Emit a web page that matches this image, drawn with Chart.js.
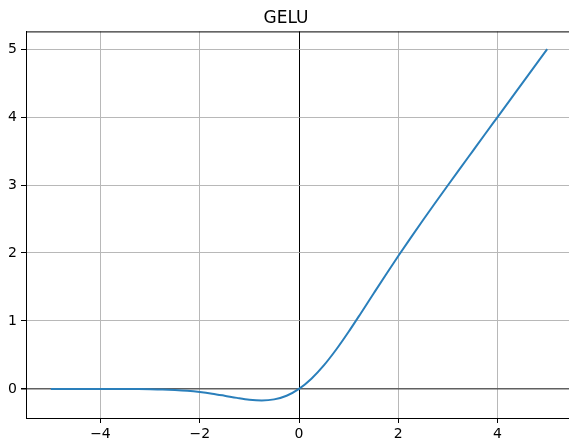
<!DOCTYPE html>
<html>
<head>
<meta charset="utf-8">
<script src="https://cdn.jsdelivr.net/npm/chart.js@4/dist/chart.umd.min.js"></script>
<style>
  html, body { margin: 0; padding: 0; background: #fff; overflow: hidden; }
  #wrap { width: 576px; height: 441px; }
</style>
</head>
<body>
<div id="wrap"><canvas id="myChart" width="576" height="441"></canvas></div>
<script>
// GELU curve, values
var xs = [-5, -4.75, -4.5, -4.25, -4, -3.75, -3.5, -3.25, -3, -2.75, -2.5, -2.25, -2, -1.75, -1.5, -1.25,
          -1, -0.75, -0.5, -0.25, 0, 0.25, 0.5, 0.75, 1, 1.25, 1.5, 1.75, 2, 2.25, 2.5, 2.75,
          3, 3.25, 3.5, 3.75, 4, 4.25, 4.5, 4.75, 5];
var ys = [0, 0, 0, 0, -0.0001, -0.0003, -0.0008, -0.002, -0.004, -0.008, -0.016, -0.028, -0.046, -0.070, -0.100, -0.132,
          -0.159, -0.170, -0.154, -0.100, 0, 0.150, 0.346, 0.580, 0.841, 1.118, 1.400, 1.680, 1.955, 2.223, 2.485, 2.742,
          2.996, 3.248, 3.499, 3.750, 4.000, 4.250, 4.500, 4.750, 5.000];
var xTicks = [-4, -2, 0, 2, 4];
var yTicks = [0, 1, 2, 3, 4, 5];

var points = xs.map(function (x, i) { return { x: x, y: ys[i] }; });

// matplotlib-like box around the axes
var frame = {
    id: 'frame',
    afterDraw: function (chart) {
        var a = chart.chartArea, c = chart.ctx;
        c.save();
        c.strokeStyle = '#000';
        c.lineWidth = 1;
        c.strokeRect(a.left + 0.5, a.top + 0.5, a.right - a.left, a.bottom - a.top);
        c.restore();
    }
};

var font = { family: 'DejaVu Sans', size: 14 };

var ctx = document.getElementById('myChart').getContext('2d');
var myChart = new Chart(ctx, {
    type: 'scatter',
    data: {
        datasets: [{
            data: points,
            showLine: true,
            borderColor: '#2a7fbb',
            borderWidth: 2,
            pointRadius: 0,
            cubicInterpolationMode: 'monotone'
        }]
    },
    options: {
        responsive: false,
        animation: false,
        layout: { padding: { right: 4, left: 0, top: 0, bottom: 0 } },
        plugins: {
            legend: { display: false },
            tooltip: { enabled: false },
            title: {
                display: true,
                text: 'GELU',
                color: '#000',
                font: { family: 'DejaVu Sans', size: 17, weight: 'normal' },
                padding: { top: 8, bottom: 3 }
            }
        },
        scales: {
            x: {
                type: 'linear',
                min: -5.5,
                max: 5.5,
                afterFit: function (s) { s.height = 23; },
                afterBuildTicks: function (s) { s.ticks = xTicks.map(function (v) { return { value: v }; }); },
                ticks: {
                    color: '#000',
                    font: font,
                    padding: 3,
                    maxRotation: 0,
                    callback: function (v) { return String(v).replace('-', '\u2212'); }
                },
                grid: {
                    color: function (c) { return c.tick && c.tick.value === 0 ? '#000' : '#b8b8b8'; },
                    lineWidth: 1,
                    tickColor: '#000',
                    tickLength: 5
                },
                border: { color: '#000' }
            },
            y: {
                type: 'linear',
                min: -0.428,
                max: 5.26,
                afterFit: function (s) { s.width = 26; },
                afterBuildTicks: function (s) { s.ticks = yTicks.map(function (v) { return { value: v }; }); },
                ticks: {
                    color: '#000',
                    font: font,
                    padding: 4
                },
                grid: {
                    color: function (c) { return c.tick && c.tick.value === 0 ? '#606060' : '#b8b8b8'; },
                    lineWidth: function (c) { return c.tick && c.tick.value === 0 ? 1.5 : 1; },
                    tickColor: '#000',
                    tickLength: 5
                },
                border: { color: '#000' }
            }
        }
    },
    plugins: [frame]
});
</script>
</body>
</html>
